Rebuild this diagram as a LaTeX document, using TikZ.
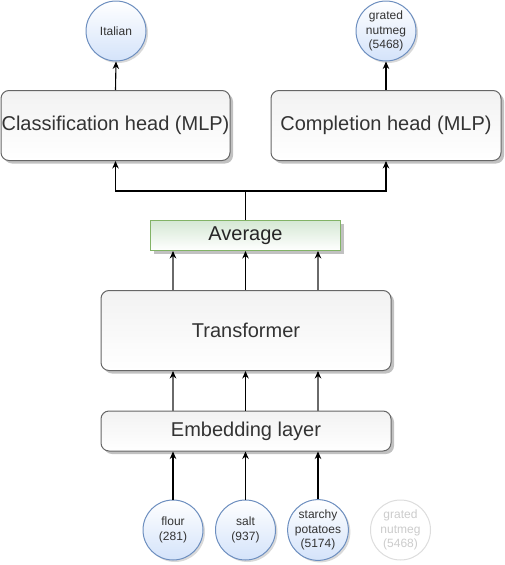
\documentclass[tikz,border=0pt]{standalone}
\usepackage{fontspec}
\setmainfont{Liberation Sans}
\usetikzlibrary{shadows,arrows.meta,calc}
\definecolor{boxstroke}{HTML}{666666}
\definecolor{boxtext}{HTML}{333333}
\definecolor{boxfill}{HTML}{F2F2F2}
\definecolor{bluestroke}{HTML}{6C8EBF}
\definecolor{bluefill}{HTML}{D4E3FA}
\definecolor{greenstroke}{HTML}{82B366}
\definecolor{greenfill}{HTML}{D5E8D4}
\definecolor{faint}{HTML}{DDDDDD}
\definecolor{fainttext}{HTML}{CCCCCC}
\definecolor{linkgray}{HTML}{6A6A6A}
\tikzset{
  bigbox/.style={draw=boxstroke, line width=1pt, rounded corners=8pt, top color=boxfill, bottom color=white,
    text=boxtext, inner sep=0pt, font=\fontsize{20}{24}\selectfont,
    drop shadow={shadow xshift=3pt, shadow yshift=-3pt, fill=black!30, opacity=0.8}},
  avgbox/.style={draw=greenstroke, line width=1pt, top color=greenfill, bottom color=white,
    text=black!85, inner sep=0pt, font=\fontsize{20}{24}\selectfont,
    drop shadow={shadow xshift=3pt, shadow yshift=-3pt, fill=black!30, opacity=0.8}},
  token/.style={circle, draw=bluestroke, line width=1pt, top color=white, bottom color=bluefill,
    minimum size=60pt, inner sep=0pt, align=center, text=boxtext, font=\fontsize{12}{14.4}\selectfont,
    drop shadow={shadow xshift=2pt, shadow yshift=-2pt, fill=black!25, opacity=0.6}},
  ghost/.style={circle, draw=faint, line width=1pt, fill=white,
    minimum size=60pt, inner sep=0pt, align=center, text=fainttext, font=\fontsize{12}{14.4}\selectfont},
  arr/.style={line width=1.1pt, draw=black, -{Stealth[length=7.5pt,width=6.5pt,color=black]}},
  graylink/.style={arr, draw=linkgray},
  plain/.style={line width=1.1pt, draw=black}
}
\begin{document}
\begin{tikzpicture}[x=1pt,y=-1pt]
\useasboundingbox (0,0) rectangle (504,565);
% boxes
\node[bigbox, minimum width=229pt, minimum height=70pt] (cls) at (115.5,125.5) {Classification head (MLP)};
\node[bigbox, minimum width=230pt, minimum height=70pt] (comp) at (386,125.5) {Completion head (MLP)};
\node[avgbox, minimum width=190pt, minimum height=30pt] (avg) at (245.5,235.5) {Average};
\node[bigbox, minimum width=290pt, minimum height=80pt] (trans) at (246,330.5) {Transformer};
\node[bigbox, minimum width=290pt, minimum height=40pt] (emb) at (246,431) {Embedding layer};
% output circles
\node[token] (italian) at (116,31) {Italian};
\node[token] (nutmegtop) at (386,31) {grated\\nutmeg\\(5468)};
% input circles
\node[token] (flour) at (173,530) {flour\\(281)};
\node[token] (salt) at (245.5,530) {salt\\(937)};
\node[token] (starchy) at (318,530) {starchy\\potatoes\\(5174)};
\node[ghost] (nutmegin) at (400.5,530) {grated\\nutmeg\\(5468)};
% input arrows
\draw[arr] (flour) -- (flour |- emb.south);
\draw[arr] (salt) -- (salt |- emb.south);
\draw[arr] (starchy) -- (starchy |- emb.south);
% embedding -> transformer
\draw[graylink] (flour |- emb.north) -- (flour |- trans.south);
\draw[arr] (salt |- emb.north) -- (salt |- trans.south);
\draw[graylink] (starchy |- emb.north) -- (starchy |- trans.south);
% transformer -> average
\draw[graylink] (flour |- trans.north) -- (flour |- avg.south);
\draw[arr] (salt |- trans.north) -- (salt |- avg.south);
\draw[graylink] (starchy |- trans.north) -- (starchy |- avg.south);
% average -> heads
\coordinate (j) at (245.5,191);
\draw[plain] (avg.north) -- (j);
\draw[arr] (j) -| (cls.south);
\draw[arr] (j) -| (comp.south);
% heads -> outputs
\draw[arr] (cls.north) -- (italian.south);
\draw[arr] (comp.north) -- (nutmegtop.south);
\end{tikzpicture}
\end{document}
